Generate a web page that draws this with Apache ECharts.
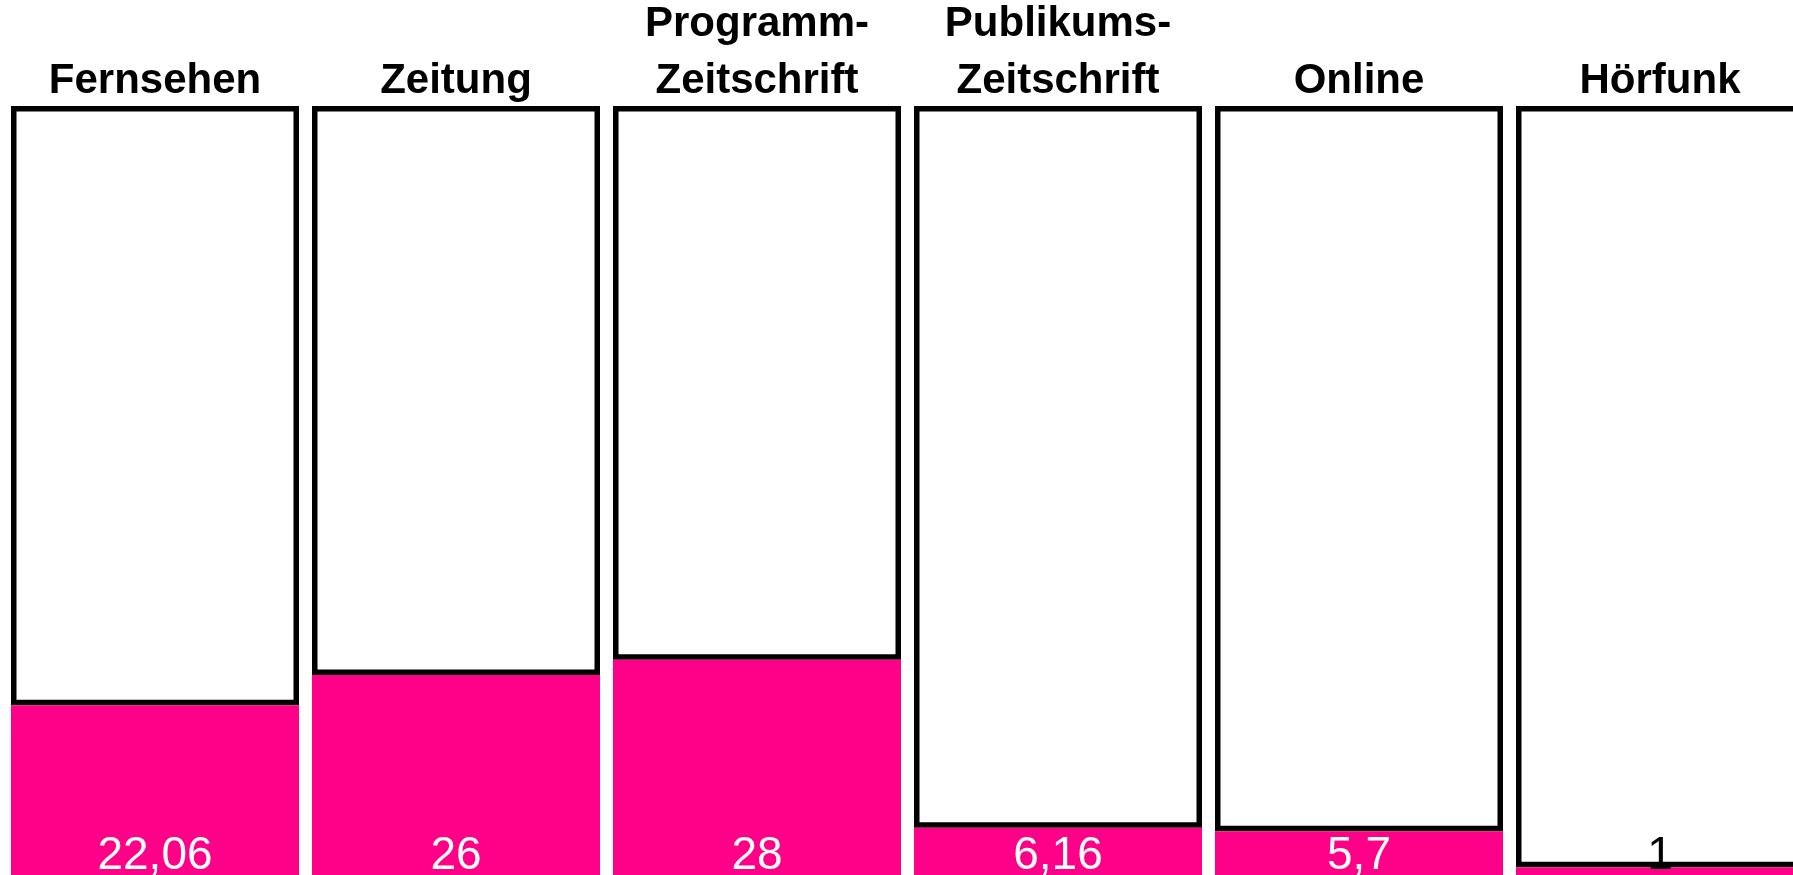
<!DOCTYPE html>
<html>
<head>
<meta charset="utf-8">
<script src="https://cdn.jsdelivr.net/npm/echarts@6/dist/echarts.min.js"></script>
<style>
html,body{margin:0;padding:0;background:#fff;}
#chart{width:1793px;height:875px;}
</style>
</head>
<body>
<div id="chart"></div>
<script>
const categories = ['Fernsehen', 'Zeitung', 'Programm-\nZeitschrift', 'Publikums-\nZeitschrift', 'Online', 'Hörfunk'];
const shareValues = [22.06, 26, 28, 6.16, 5.7, 1];
const restValues = [77.94, 74, 72, 93.84, 94.3, 99];
const labelColors = ['#fff', '#fff', '#fff', '#fff', '#fff', '#000'];

const chart = echarts.init(document.getElementById('chart'));
const fontFamily = '"Liberation Sans", Arial, Helvetica, sans-serif';

chart.setOption({
  animation: false,
  grid: { left: 4.5, top: 106, bottom: 0, width: 1806, containLabel: false, outerBoundsMode: 'none' },
  xAxis: {
    type: 'category',
    position: 'top',
    data: categories,
    axisLine: { show: false },
    axisTick: { show: false },
    axisLabel: {
      interval: 0,
      margin: -4,
      color: '#000',
      fontFamily: fontFamily,
      fontWeight: 'bold',
      fontSize: 42,
      lineHeight: 57
    }
  },
  yAxis: {
    type: 'value',
    min: 0,
    max: 100,
    show: false,
    splitLine: { show: false }
  },
  series: [
    {
      type: 'bar',
      stack: 'total',
      barWidth: 288,
      data: shareValues.map((v, i) => ({
        value: v,
        label: { color: labelColors[i] }
      })),
      itemStyle: { color: '#FF0088' },
      label: {
        show: true,
        position: 'insideBottom',
        distance: -4,
        fontFamily: fontFamily,
        fontSize: 46,
        lineHeight: 46,
        formatter: p => String(p.value).replace('.', ',')
      },
      z: 2
    },
    {
      type: 'bar',
      stack: 'total',
      barWidth: 288,
      data: restValues,
      itemStyle: { color: '#fff', borderColor: '#000', borderWidth: 5.5 },
      z: 1
    }
  ]
});
</script>
</body>
</html>
